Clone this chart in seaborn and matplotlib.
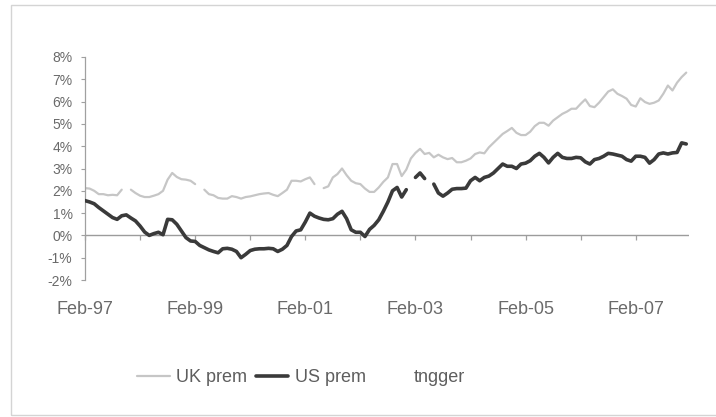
import numpy as np
import pandas as pd
import matplotlib
matplotlib.use("Agg")
import matplotlib.pyplot as plt
from matplotlib.lines import Line2D
from matplotlib.patches import Rectangle
import seaborn as sns

# Monthly premia (%), Feb-97 onwards; NaN = no observation
uk_prem = [
    2.12, 2.10, 2.00, 1.85, 1.85, 1.80, 1.82, 1.80, 2.05, np.nan,
    2.05, 1.90, 1.78, 1.72, 1.72, 1.78, 1.85, 2.00, 2.50, 2.80,
    2.62, 2.52, 2.50, 2.45, 2.30, np.nan, 2.05, 1.85, 1.80, 1.68,
    1.65, 1.65, 1.76, 1.72, 1.65, 1.72, 1.75, 1.80, 1.85, 1.88,
    1.90, 1.82, 1.76, 1.90, 2.05, 2.45, 2.45, 2.42, 2.52, 2.60,
    2.30, np.nan, 2.12, 2.20, 2.60, 2.75, 3.00, 2.70, 2.45, 2.34,
    2.30, 2.10, 1.95, 1.95, 2.15, 2.40, 2.60, 3.20, 3.20, 2.66,
    2.95, 3.45, 3.70, 3.88, 3.65, 3.70, 3.50, 3.62, 3.50, 3.42,
    3.47, 3.28, 3.28, 3.35, 3.45, 3.65, 3.72, 3.68, 3.95, 4.15,
    4.35, 4.55, 4.68, 4.82, 4.60, 4.50, 4.50, 4.65, 4.90, 5.05,
    5.05, 4.92, 5.15, 5.30, 5.45, 5.55, 5.68, 5.68, 5.90, 6.10,
    5.80, 5.75, 5.95, 6.20, 6.45, 6.55, 6.35, 6.25, 6.13, 5.85,
    5.78, 6.15, 5.98, 5.90, 5.95, 6.05, 6.35, 6.72, 6.50, 6.85,
    7.10, 7.30,
]

us_prem = [
    1.56, 1.50, 1.42, 1.25, 1.10, 0.95, 0.80, 0.72, 0.88, 0.92,
    0.78, 0.65, 0.42, 0.15, 0.00, 0.08, 0.14, 0.03, 0.72, 0.70,
    0.50, 0.20, -0.10, -0.25, -0.27, -0.45, -0.55, -0.65, -0.72, -0.78,
    -0.60, -0.58, -0.62, -0.72, -1.00, -0.85, -0.68, -0.62, -0.60, -0.60,
    -0.58, -0.60, -0.72, -0.62, -0.45, -0.05, 0.20, 0.25, 0.60, 1.00,
    0.86, 0.78, 0.72, 0.70, 0.75, 0.95, 1.08, 0.75, 0.25, 0.14,
    0.14, -0.05, 0.27, 0.45, 0.70, 1.08, 1.50, 2.00, 2.15, 1.72,
    2.05, np.nan, 2.60, 2.80, 2.55, np.nan, 2.30, 1.90, 1.76, 1.90,
    2.07, 2.10, 2.10, 2.12, 2.45, 2.60, 2.45, 2.60, 2.66, 2.80,
    3.00, 3.20, 3.10, 3.10, 3.00, 3.20, 3.24, 3.35, 3.55, 3.68,
    3.50, 3.25, 3.50, 3.68, 3.50, 3.45, 3.45, 3.50, 3.48, 3.30,
    3.20, 3.40, 3.45, 3.55, 3.68, 3.65, 3.60, 3.55, 3.40, 3.33,
    3.55, 3.55, 3.50, 3.24, 3.40, 3.65, 3.70, 3.65, 3.70, 3.72,
    4.15, 4.10,
]

tick_labels = ["Feb-97", "Feb-99", "Feb-01", "Feb-03", "Feb-05", "Feb-07"]
y_ticks = [-2, -1, 0, 1, 2, 3, 4, 5, 6, 7, 8]
series_names = ["UK prem", "US prem", "tngger"]


def to_frame(values):
    s = pd.Series(values, dtype=float)
    seg = s.isna().cumsum()
    df = pd.DataFrame({"month": np.arange(len(s)), "value": s, "seg": seg})
    return df.dropna()


sns.set_style("white")
plt.rcParams["font.family"] = ["Liberation Sans", "DejaVu Sans"]

fig = plt.figure(figsize=(7.16, 4.17), dpi=100)
ax = fig.add_axes([85 / 716, 1 - 280 / 417, 604 / 716, 223 / 417])

uk_color = "#c6c6c6"
us_color = "#3a3a3a"
text_color = "#6a6a6a"
axis_color = "#a0a0a0"

n = len(uk_prem)

sns.lineplot(data=to_frame(uk_prem), x="month", y="value", units="seg",
             estimator=None, color=uk_color, lw=1.6, ax=ax, legend=False,
             zorder=2)
sns.lineplot(data=to_frame(us_prem), x="month", y="value", units="seg",
             estimator=None, color=us_color, lw=2.6, ax=ax, legend=False,
             zorder=3)

ax.set_xlim(0, n - 0.4)
ax.set_ylim(-2, 8)
ax.set_xlabel("")
ax.set_ylabel("")

# axis line at zero
ax.axhline(0, color="#9c9c9c", lw=1.0, zorder=1.8)

# y axis
ax.set_yticks(y_ticks)
ax.set_yticklabels([f"{v}%" for v in y_ticks])
ax.tick_params(axis="y", direction="out", length=3, width=0.8, color=axis_color,
               labelsize=10, labelcolor=text_color, pad=6, left=True)
for side in ["top", "right", "bottom"]:
    ax.spines[side].set_visible(False)
ax.spines["left"].set_color(axis_color)
ax.spines["left"].set_linewidth(0.9)

# category labels sit below the plot
ax.set_xticks(np.arange(0, 24 * len(tick_labels), 24))
ax.set_xticklabels(tick_labels)
ax.tick_params(axis="x", length=0, labelsize=13, labelcolor=text_color, pad=15)

# yearly tick marks along the zero line
zero_frac = (0 - (-2)) / (8 - (-2))
sec = ax.secondary_xaxis(zero_frac)
sec.set_xticks(np.arange(0, n, 12))
sec.set_xticklabels([])
sec.tick_params(axis="x", bottom=True, direction="out", length=3.5, width=0.9,
                color=axis_color)
sec.spines["bottom"].set_visible(False)

# legend
handles = [
    Line2D([], [], color=uk_color, lw=1.6),
    Line2D([], [], color=us_color, lw=2.6),
    Line2D([], [], color="white", lw=1.6),
]
fig.legend(handles, series_names, loc="center left",
           bbox_to_anchor=(137 / 716, 1 - 378 / 417), ncol=3, frameon=False,
           fontsize=13, labelcolor="#5e5e5e", handlelength=1.8,
           handletextpad=0.35, columnspacing=0.5, borderpad=0, borderaxespad=0)

# chart area border (open on the right)
fig.add_artist(Rectangle((11 / 716, 2 / 417), 800 / 716, 410 / 417,
                         transform=fig.transFigure, fill=False,
                         edgecolor="#d4d4d4", lw=1.0, clip_on=False))

fig.savefig("out.png", dpi=100)
